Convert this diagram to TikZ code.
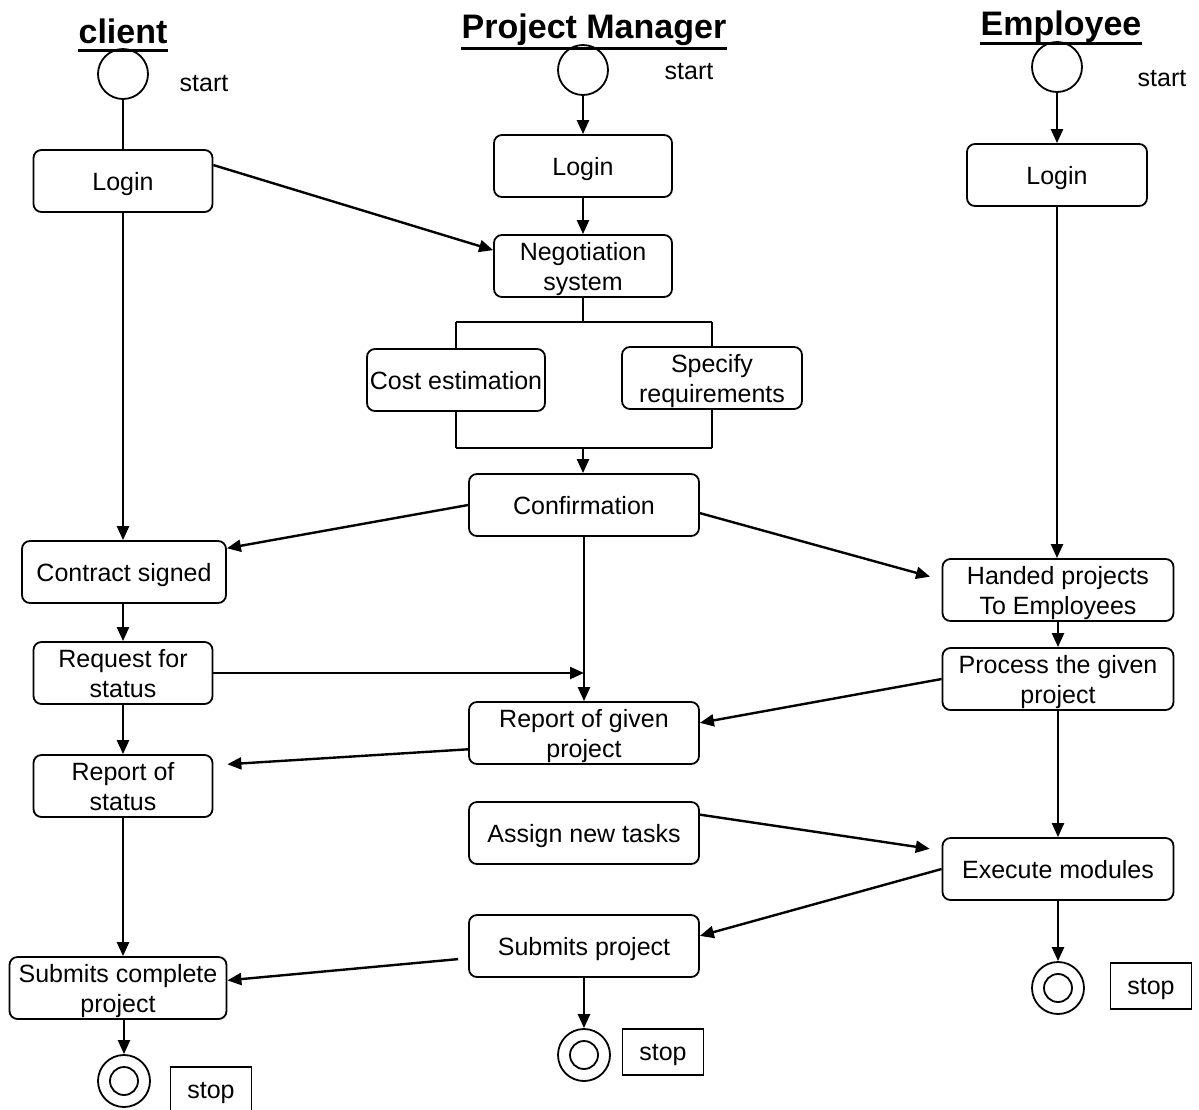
\documentclass[tikz,border=0pt]{standalone}
\usepackage{fontspec}
\setmainfont{Liberation Sans}
\usetikzlibrary{arrows.meta}
\tikzset{
    activity/.style={draw, rounded corners=4pt, line width=0.9pt, minimum height=31pt,
        align=center, inner sep=1pt, text depth=0pt, font=\fontsize{12.5}{15}\selectfont},
    startstate/.style={draw, circle, line width=0.9pt, minimum size=25pt, inner sep=0pt},
    endstate/.style={draw, circle, line width=0.9pt, minimum size=26pt, inner sep=0pt,
        path picture={\draw[line width=0.9pt] (path picture bounding box.center) circle (7pt);}},
    stopbox/.style={draw, line width=0.8pt, minimum width=40.5pt, minimum height=23pt,
        text depth=0pt, font=\fontsize{12.5}{15}\selectfont},
    lbl/.style={font=\fontsize{12.5}{15}\selectfont},
    lane/.style={font=\fontsize{17}{20}\selectfont\bfseries, inner sep=0pt, anchor=base},
    flow/.style={line width=1.2pt, -{Triangle[length=7pt,width=6pt]}},
    plain/.style={line width=0.8pt},
    underl/.style={line width=1.5pt},
}

\begin{document}
\begin{tikzpicture}[x=0.5pt, y=-0.5pt]
\useasboundingbox (0,0) rectangle (1199,1109);

\node[lane] (ctitle) at (123,43) {client};
\node[lane] (pmtitle) at (594,38) {Project Manager};
\node[lane] (etitle) at (1061,35) {Employee};
\draw[underl] ([yshift=-3.5pt]ctitle.base west) -- ([yshift=-3.5pt]ctitle.base east);
\draw[underl] ([yshift=-5pt]pmtitle.base west) -- ([yshift=-5pt]pmtitle.base east);
\draw[underl] ([yshift=-4pt]etitle.base west) -- ([yshift=-4pt]etitle.base east);

\node[startstate] (cstart) at (123,74) {};
\node[startstate] (pmstart) at (583,70) {};
\node[startstate] (estart) at (1057,67) {};
\node[lbl] (cstartlbl) at (204,84) {start};
\node[lbl] (pmstartlbl) at (689,72) {start};
\node[lbl] (estartlbl) at (1162,79) {start};

\node[activity, minimum width=89.5pt] (clogin) at (123,181) {Login};
\node[activity, minimum width=102pt] (contract) at (124,572) {Contract signed};
\node[activity, minimum width=89.5pt] (request) at (123,673) {Request for\\status};
\node[activity, minimum width=89.5pt] (rstatus) at (123,786) {Report of\\status};
\node[activity, minimum width=108.5pt] (submitc) at (118,988) {Submits complete\\project};

\node[activity, minimum width=89pt] (pmlogin) at (583,166) {Login};
\node[activity, minimum width=89pt] (negot) at (583,266) {Negotiation\\system};
\node[activity, minimum width=89pt] (cost) at (456,380) {Cost estimation};
\node[activity, minimum width=90pt] (spec) at (712,378) {Specify\\requirements};
\node[activity, minimum width=115pt] (confirm) at (584,505) {Confirmation};
\node[activity, minimum width=115pt] (report) at (584,733) {Report of given\\project};
\node[activity, minimum width=115pt] (assign) at (584,833) {Assign new tasks};
\node[activity, minimum width=115pt] (submitp) at (584,946) {Submits project};

\node[activity, minimum width=90pt] (elogin) at (1057,175) {Login};
\node[activity, minimum width=115.5pt] (handed) at (1058,590) {Handed projects\\To Employees};
\node[activity, minimum width=115.5pt] (process) at (1058,679) {Process the given\\project};
\node[activity, minimum width=115.5pt] (execute) at (1058,869) {Execute modules};

\node[endstate] (cstop) at (124,1081) {};
\node[endstate] (pmstop) at (584,1055) {};
\node[endstate] (estop) at (1058,988) {};
\node[stopbox] (cstopbox) at (211,1090) {stop};
\node[stopbox] (pmstopbox) at (663,1052) {stop};
\node[stopbox] (estopbox) at (1151,986) {stop};

\coordinate (fork) at (583,322);
\coordinate (join) at (583,448);

\draw[plain] (cstart) -- (clogin);
\draw[flow] (clogin.10) -- (negot.170);
\draw[flow] (clogin) -- (clogin |- contract.north);
\draw[flow] (request |- contract.south) -- (request);
\draw[flow] (request) -- (rstatus);
\draw[flow] (rstatus) -- (rstatus |- submitc.north);
\draw[flow] (cstop |- submitc.south) -- (cstop);

\draw[flow] (pmstart) -- (pmlogin);
\draw[flow] (pmlogin) -- (negot);
\draw[plain] (negot) -- (fork);
\draw[plain] (fork -| cost) -- (fork -| spec);
\draw[plain] (fork -| cost) -- (cost);
\draw[plain] (fork -| spec) -- (spec);
\draw[plain] (cost) -- (join -| cost);
\draw[plain] (spec) -- (join -| spec);
\draw[plain] (join -| cost) -- (join -| spec);
\draw[flow] (join) -- (join |- confirm.north);
\draw[flow] (confirm.west) -- (contract.13);
\draw[flow, shorten >=6pt] (confirm.-4) -- (handed.175);
\draw[flow] (confirm) -- (report);
\draw[flow] (request.east) -- (request.east -| report.north);
\draw[flow, shorten >=7pt] (report.188) -- (rstatus.13);
\draw[flow, shorten >=6pt] (assign.9) -- (execute.171);
\draw[flow, shorten <=5pt] (submitp.186) -- (submitc.4);
\draw[flow] (submitp) -- (pmstop);

\draw[flow] (estart) -- (elogin);
\draw[flow] (elogin) -- (elogin |- handed.north);
\draw[flow] (handed) -- (process);
\draw[flow] (process.west) -- (report.5);
\draw[flow] (process) -- (execute);
\draw[flow] (execute.west) -- (submitp.5);
\draw[flow] (execute) -- (estop);

\end{tikzpicture}
\end{document}
